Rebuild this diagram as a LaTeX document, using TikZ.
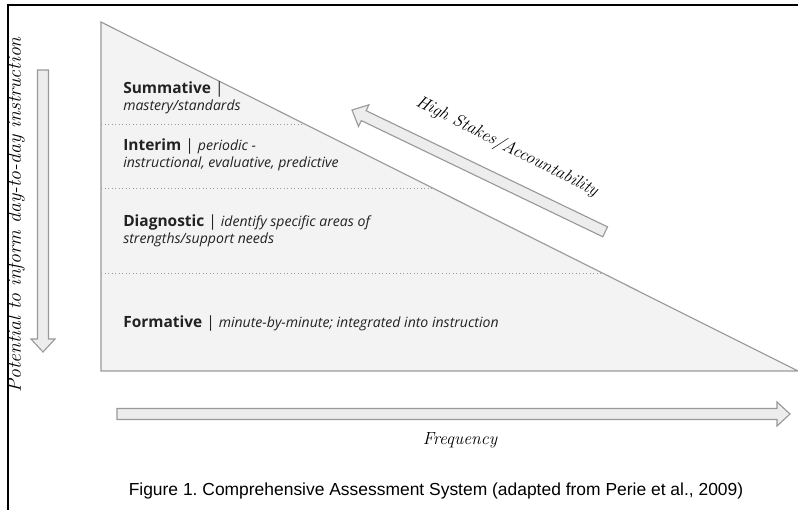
\documentclass[tikz,border=0pt]{standalone}
\usepackage{fontspec}
\newfontfamily\levelfont{Open Sans}
\newfontfamily\capfont{Liberation Sans}
\usetikzlibrary{positioning}

\definecolor{zonefill}{HTML}{F3F3F3}
\definecolor{arrowfill}{HTML}{EDEDED}
\definecolor{zoneline}{HTML}{999999}
\definecolor{leveltext}{HTML}{222222}

\tikzset{
	zone/.style={fill=zonefill, draw=zoneline, line width=0.8pt},
	bigarrow/.style={fill=arrowfill, draw=zoneline, line width=0.8pt},
	divider/.style={draw=zoneline, dotted, line width=0.5pt},
	level/.style={anchor=north west, align=left, inner sep=0pt, text=leveltext, font=\levelfont\fontsize{11}{12.2}\selectfont},
	hand/.style={inner sep=0pt, font=\itshape\fontsize{12.5}{14}\selectfont}
}

\newcommand{\note}{\fontsize{10}{12.2}\selectfont\itshape}

\newcommand{\fatarrow}[3]{
	\draw[bigarrow, shift={#1}, rotate=#2] (0,0) -- (13,-12) -- (13,-5.5) -- (#3,-5.5) -- (#3,5.5) -- (13,5.5) -- (13,12) -- cycle;
}

\begin{document}
\begin{tikzpicture}[x=0.025cm, y=-0.025cm]
	\useasboundingbox (0,0) rectangle (798,510);

	% frame
	\draw[line width=1.4pt]	(8,510) -- (8,5) -- (798,5);

	% triangle of assessments
	\coordinate	(apex)		at	(101,22);
	\coordinate	(corner)	at	(101,371);
	\coordinate	(tipright)	at	(798,371);
	\draw[zone]	(apex) -- (corner) -- (tipright) -- cycle;

	\draw[divider]	(101,124) -- (305,124);
	\draw[divider]	(101,188) -- (433,188);
	\draw[divider]	(101,273) -- (602,273);

	\node[level]	(summative)		at	(123,81)	{\textbf{Summative} |\\\note mastery/standards};
	\node[level]	(interim)		at	(123,138)	{\textbf{Interim} | {\note periodic -}\\\note instructional, evaluative, predictive};
	\node[level]	(diagnostic)	at	(123,214)	{\textbf{Diagnostic} | {\note identify specific areas of}\\\note strengths/support needs};
	\node[level]	(formative)		at	(123,315)	{\textbf{Formative} | {\note minute-by-minute; integrated into instruction}};

	% arrows
	\fatarrow{(43,352)}{90}{282}
	\fatarrow{(790,414)}{180}{673}
	\fatarrow{(352,110)}{-25.7}{281}

	\node[hand, rotate=90, font=\itshape\fontsize{14}{16}\selectfont]	(potential)		at	(16,215)	{Potential to inform day-to-day instruction};
	\node[hand, rotate=-27]	(stakes)		at	(507,147)	{High Stakes/Accountability};
	\node[hand]				(frequency)		at	(460,440)	{Frequency};

	\node[inner sep=0pt, font=\capfont\fontsize{12.4}{14}\selectfont]	(caption)	at	(436,491)	{\frenchspacing Figure 1. Comprehensive Assessment System (adapted from Perie et al., 2009)};
\end{tikzpicture}
\end{document}
